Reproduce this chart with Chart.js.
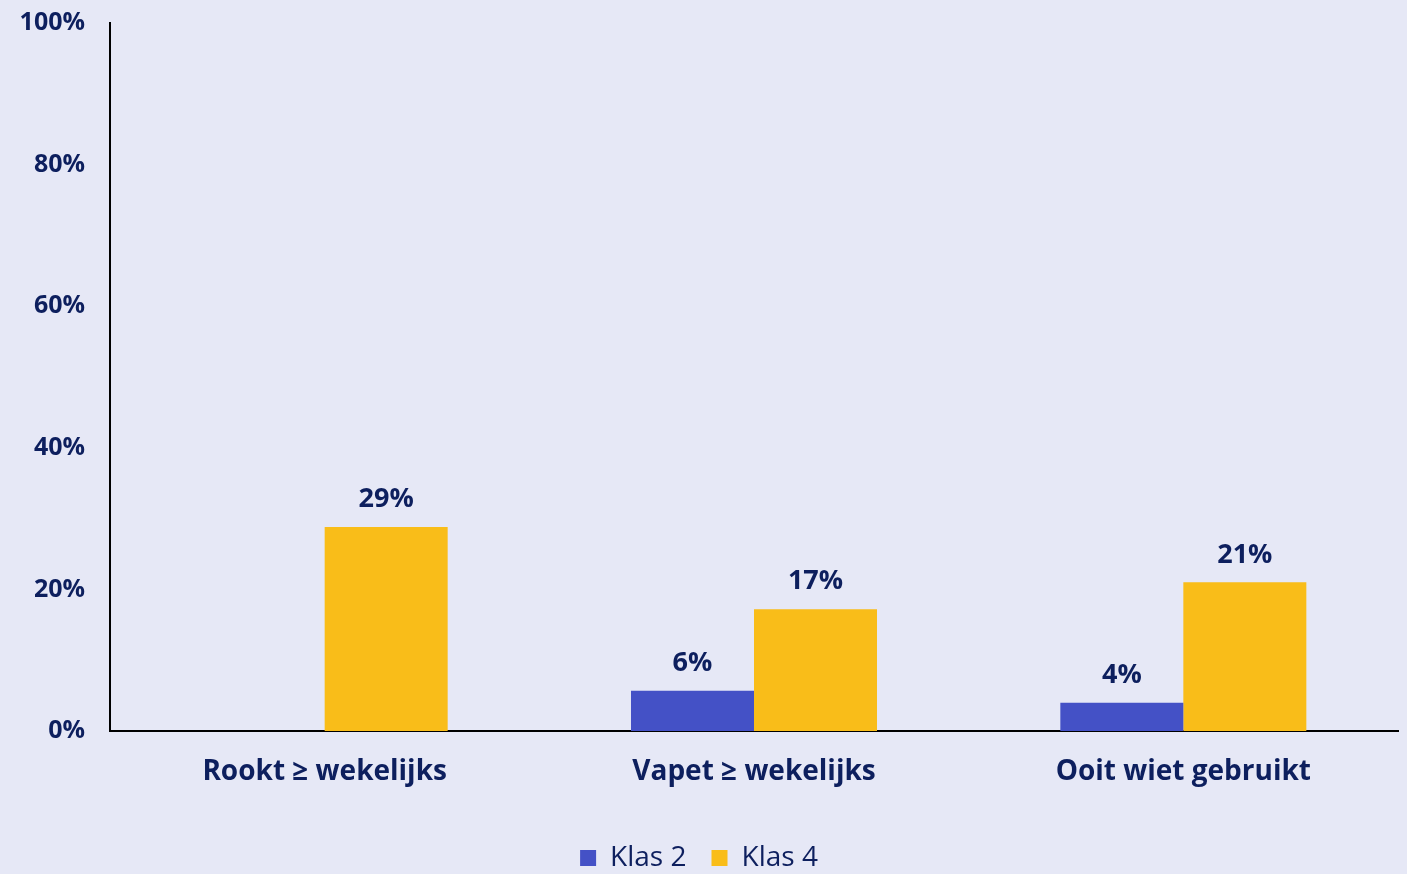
<!DOCTYPE html>
<html>
<head>
<meta charset="utf-8">
<script src="https://cdn.jsdelivr.net/npm/chart.js@4/dist/chart.umd.min.js"></script>
<style>
  html, body { margin: 0; padding: 0; background: #E6E8F6; }
  #wrap { width: 1407px; height: 874px; }
</style>
</head>
<body>
<div id="wrap"><canvas id="chart"></canvas></div>
<script>
// chart data
const categories = ["Rookt \u2265 wekelijks", "Vapet \u2265 wekelijks", "Ooit wiet gebruikt"];
const klas2 = [null, 5.7, 4.0];
const klas4 = [28.8, 17.2, 21.0];
const seriesNames = ["Klas 2", "Klas 4"];
const yTicks = [0, 20, 40, 60, 80, 100];

const textColor = "#0D1F5E";
const fontFamily = "'Open Sans', sans-serif";

// draws the percentage above each bar
const valueLabels = {
    id: "valueLabels",
    afterDatasetsDraw(chart) {
        const ctx = chart.ctx;
        ctx.save();
        ctx.font = "bold 27px " + fontFamily;
        ctx.fillStyle = textColor;
        ctx.textAlign = "center";
        ctx.textBaseline = "bottom";
        chart.data.datasets.forEach((ds, i) => {
            chart.getDatasetMeta(i).data.forEach((bar, j) => {
                const v = ds.data[j];
                if (v === null) return;
                ctx.fillText(Math.round(v) + "%", bar.x, bar.y - 14);
            });
        });
        ctx.restore();
    }
};

new Chart(document.getElementById("chart"), {
    type: "bar",
    data: {
        labels: categories,
        datasets: [
            { label: seriesNames[0], data: klas2, backgroundColor: "#4451C6" },
            { label: seriesNames[1], data: klas4, backgroundColor: "#F9BD19" }
        ]
    },
    options: {
        responsive: true,
        maintainAspectRatio: false,
        animation: false,
        categoryPercentage: 0.573,
        barPercentage: 1,
        layout: { padding: { top: 23, right: 9, left: 0, bottom: -8 } },
        plugins: {
            tooltip: { enabled: false },
            legend: {
                position: "bottom",
                labels: {
                    color: textColor,
                    font: { family: fontFamily, size: 28, lineHeight: 1 },
                    boxWidth: 16,
                    boxHeight: 16,
                    padding: 25
                }
            }
        },
        scales: {
            x: {
                grid: { display: false, drawTicks: false },
                border: { color: "#000", width: 2 },
                ticks: {
                    color: textColor,
                    font: { family: fontFamily, size: 28, weight: "bold" },
                    padding: 24
                },
                afterFit(scale) { scale.height = 88; }
            },
            y: {
                min: 0,
                max: 100,
                grid: { display: false, drawTicks: true, tickLength: 25 },
                border: { color: "#000", width: 2 },
                afterBuildTicks(scale) { scale.ticks = yTicks.map(v => ({ value: v })); },
                ticks: {
                    color: textColor,
                    font: { family: fontFamily, size: 25, weight: "bold" },
                    padding: 0,
                    callback: v => v + "%"
                },
                afterFit(scale) { scale.width = 110; }
            }
        }
    },
    plugins: [valueLabels]
});
</script>
</body>
</html>
